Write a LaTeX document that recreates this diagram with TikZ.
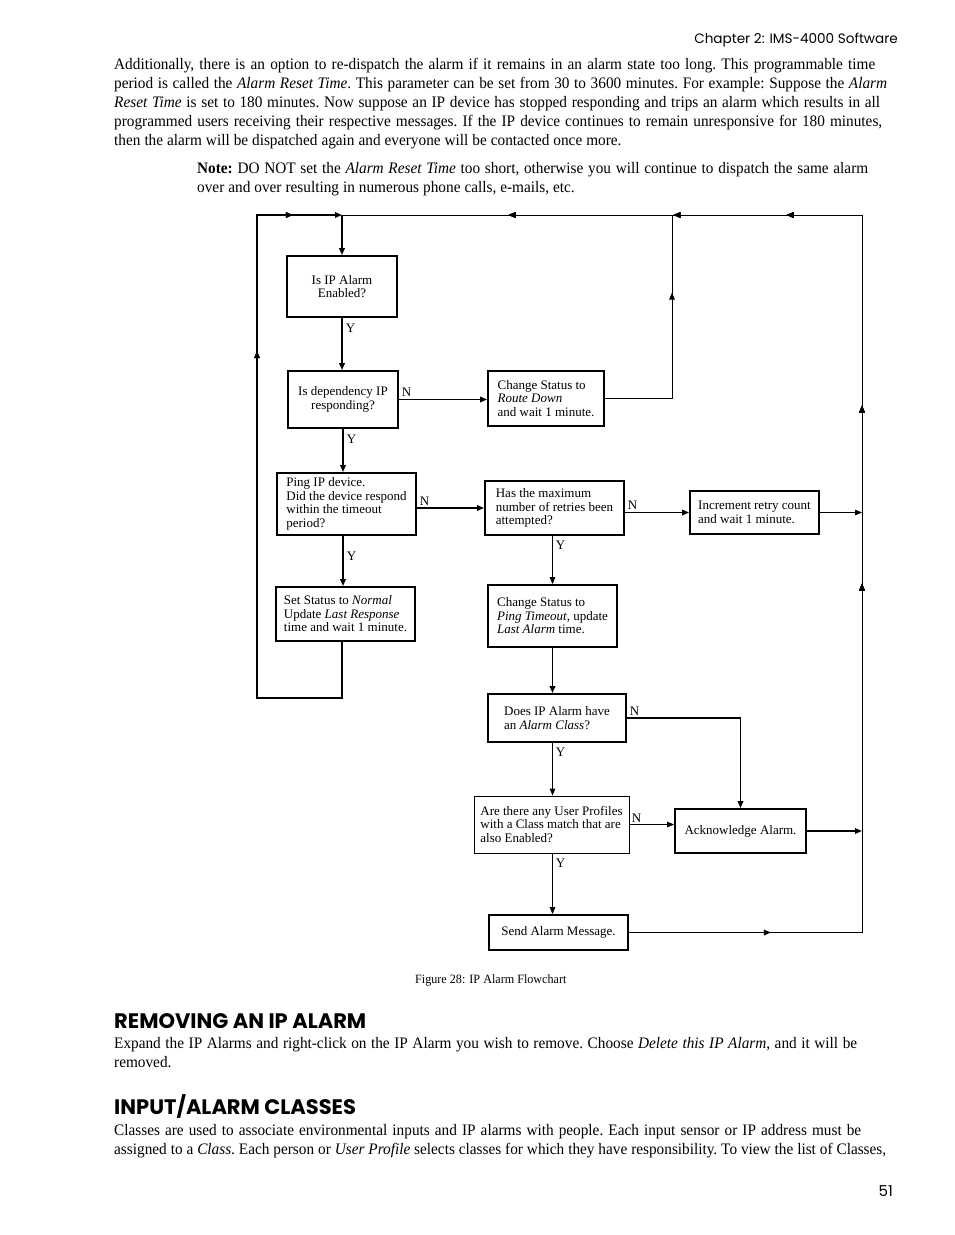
\documentclass[tikz,border=0pt]{standalone}
\usepackage{fontspec}
\setmainfont{Liberation Serif}
\newfontfamily\bodyfont[FakeStretch=0.955]{Liberation Serif}
\newfontfamily\headfont{Poppins}
\usetikzlibrary{arrows.meta}
\usetikzlibrary{positioning}
\usetikzlibrary{decorations.markings}

\newcommand{\chartfont}{\fontsize{13}{13.5}\selectfont}
\newcommand{\parafont}{\bodyfont\fontsize{16}{19}\selectfont\frenchspacing}
\newcommand{\wordspace}{\spaceskip=0.25em plus 0.8em minus 0.06em\relax}
\newcommand{\jline}[2]{\makebox[#1][s]{#2}}

\tikzset{
  >={Triangle[length=7pt,width=5.5pt]},
  bbox/.style 2 args={draw, line width=1.8pt, minimum width=#1, minimum height=#2,
    inner sep=0pt, align=left, font=\chartfont},
  tbox/.style 2 args={bbox={#1}{#2}, line width=0.9pt},
  thk/.style={line width=1.8pt},
  thn/.style={line width=0.9pt},
  ylab/.style={pos=0, anchor=north west, inner sep=3pt, yshift=-2pt, font=\chartfont},
  nlab/.style={pos=0, anchor=south west, inner sep=2pt, font=\chartfont},
  arrowat/.style={postaction={decorate},
    decoration={markings, mark=at position #1 with {\arrow{>}}}},
  txt/.style={inner sep=0pt, anchor=base west},
}

\begin{document}
\begin{tikzpicture}[x=1pt, y=-1pt]
\useasboundingbox (0,0) rectangle (954,1235);

% page text
\node[txt, anchor=base east, font=\headfont\fontsize{13.6}{16}\selectfont] at (898,43) (chapter) {Chapter 2: IMS-4000 Software};

\node[txt, text width=775pt, align=left, font=\parafont] at (114,69) (intro) {\wordspace
\jline{761pt}{Additionally, there is an option to re-dispatch the alarm if it remains in an alarm state too long. This programmable time}\\
\jline{773pt}{period is called the \textit{Alarm Reset Time}. This parameter can be set from 30 to 3600 minutes. For example: Suppose the \textit{Alarm}}\\
\jline{766pt}{\textit{Reset Time} is set to 180 minutes. Now suppose an IP device has stopped responding and trips an alarm which results in all}\\
\jline{768pt}{programmed users receiving their respective messages. If the IP device continues to remain unresponsive for 180 minutes,}\\
then the alarm will be dispatched again and everyone will be contacted once more.};

\node[txt, text width=690pt, align=left, font=\parafont] at (197,173) (note) {\wordspace
\jline{671pt}{\textbf{Note:} DO NOT set the \textit{Alarm Reset Time} too short, otherwise you will continue to dispatch the same alarm}\\
over and over resulting in numerous phone calls, e-mails, etc.};

% flowchart boxes
\node[bbox={110pt}{61pt}, align=center] at (342,286.5) (enabled) {Is IP Alarm\\Enabled?};
\node[bbox={110pt}{57pt}, align=center] at (343,399.5) (depend) {Is dependency IP\\responding?};
\node[bbox={116pt}{55pt}] at (546,398.5) (routedown) {Change Status to\\\textit{Route Down}\\and wait 1 minute.};
\node[bbox={139pt}{62pt}] at (346.5,504) (ping) {Ping IP device.\\Did the device respond\\within the timeout\\period?};
\node[bbox={139pt}{54pt}] at (554.5,508) (retries) {Has the maximum\\number of retries been\\attempted?};
\node[bbox={129pt}{43pt}] at (754.5,512.5) (increment) {Increment retry count\\and wait 1 minute.};
\node[bbox={139pt}{54pt}] at (345.5,614) (normal) {Set Status to \textit{Normal}\\Update \textit{Last Response}\\time and wait 1 minute.};
\node[bbox={129pt}{62pt}] at (552.5,616) (timeout) {Change Status to\\\textit{Ping Timeout}, update\\\textit{Last Alarm} time.};
\node[bbox={138pt}{48pt}] at (557,718) (hasclass) {Does IP Alarm have\\an \textit{Alarm Class}?};
\node[tbox={155pt}{57pt}] at (551.5,824.5) (profiles) {Are there any User Profiles\\with a Class match that are\\also Enabled?};
\node[bbox={131pt}{44pt}] at (740.5,831) (ack) {Acknowledge Alarm.};
\node[bbox={139pt}{35pt}] at (558.5,932.5) (send) {Send Alarm Message.};

\coordinate (topjoin) at (342,215);
\coordinate (topright) at (862,215);
\coordinate (botright) at (862,932.5);
\coordinate (rdtop) at (672,215);
\coordinate (loopbl) at (257,698);
\coordinate (looptl) at (257,215);

% left column
\draw[thk, ->] (topjoin) -- (enabled.north);
\draw[thk, ->] (enabled.south) -- node[ylab] {Y} (enabled.south |- depend.north);
\draw[thk, ->] (depend.south) -- node[ylab] {Y} (depend.south |- ping.north);
\draw[thk, ->] (depend.south |- ping.south) -- node[ylab, yshift=-10pt] {Y} (depend.south |- normal.north);
\draw[thk, ->] (depend.east) -- node[nlab] {N} (depend.east -| routedown.west);
\draw[thk, ->] (ping.east |- retries.west) -- node[nlab] {N} (retries.west);

% loop back from Normal
\draw[thk, ->, arrowat=488pt, arrowat=660pt] (topjoin |- normal.south) -- (topjoin |- loopbl) -- (loopbl) -- (looptl) -- (topjoin);

% route down back to the top
\draw[thk] (routedown.east) -- (routedown.east -| rdtop);
\draw[thn, arrowat=106pt] (routedown.east -| rdtop) -- (rdtop);

% middle column
\draw[thk, ->] (retries.east |- increment.west) -- node[nlab] {N} (increment.west);
\draw[thn, ->] (timeout.north |- retries.south) -- node[ylab] {Y} (timeout.north);
\draw[thk, ->] (timeout.south) -- (timeout.south |- hasclass.north);
\draw[thn, ->] (timeout.south |- hasclass.south) -- node[ylab] {Y} (timeout.south |- profiles.north);
\draw[thk, ->] (hasclass.east) -| node[nlab] {N} (ack.north);
\draw[thn, ->] (profiles.east) -- node[nlab] {N} (profiles.east -| ack.west);
\draw[thn, ->] (timeout.south |- profiles.south) -- node[ylab] {Y} (timeout.south |- send.north);

% right side return
\draw[thn, ->] (increment.east) -- (increment.east -| botright);
\draw[thk, ->] (ack.east) -- (ack.east -| botright);
\draw[thk, arrowat=142pt] (send.east) -- (botright);
\draw[thn, arrowat=349pt, arrowat=527pt, arrowat=793pt, arrowat=906pt, arrowat=1071pt] (botright) -- (topright) -- (topjoin);

\node[txt, font=\bodyfont\fontsize{12.7}{15}\selectfont] at (415,983) (caption) {Figure 28: IP Alarm Flowchart};

% sections
\node[txt, font=\headfont\bfseries\fontsize{21}{24}\selectfont] at (114,1028) (removehead) {REMOVING AN IP ALARM};
\node[txt, text width=775pt, align=left, font=\parafont] at (114,1048) (removetext) {\wordspace
\jline{743pt}{Expand the IP Alarms and right-click on the IP Alarm you wish to remove. Choose \textit{Delete this IP Alarm}, and it will be}\\
removed.};

\node[txt, font=\headfont\bfseries\fontsize{21}{24}\selectfont] at (114,1114) (classhead) {INPUT/ALARM CLASSES};
\node[txt, text width=775pt, align=left, font=\parafont] at (114,1135) (classtext) {\wordspace
\jline{747pt}{Classes are used to associate environmental inputs and IP alarms with people. Each input sensor or IP address must be}\\
\jline{772pt}{assigned to a \textit{Class}. Each person or \textit{User Profile} selects classes for which they have responsibility. To view the list of Classes,}};

\node[txt, anchor=base east, font=\headfont\fontsize{15}{18}\selectfont] at (893,1196) (pagenum) {51};

\end{tikzpicture}
\end{document}
